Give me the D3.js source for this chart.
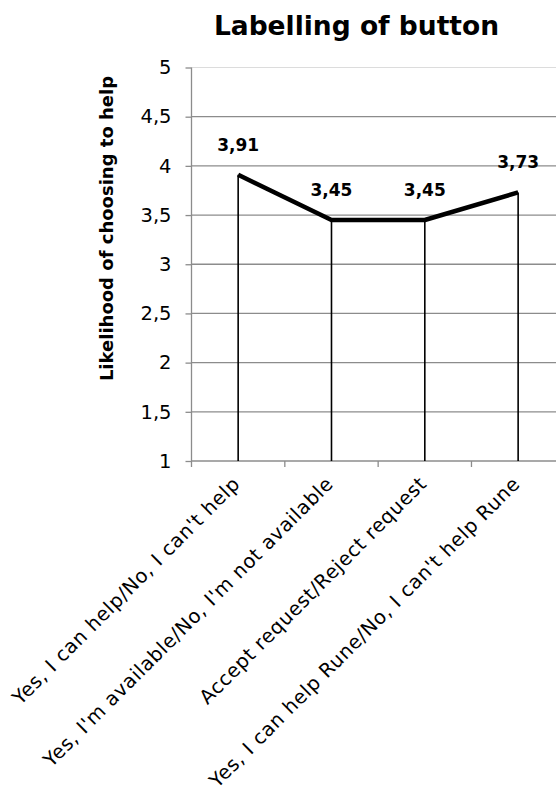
<!DOCTYPE html>
<html>
<head>
<meta charset="utf-8">
<script src="https://cdn.jsdelivr.net/npm/d3@7"></script>
<style>
  html, body { margin: 0; padding: 0; background: #fff; }
  svg { display: block; }
  text { font-family: "DejaVu Sans", sans-serif; fill: #000; }
</style>
</head>
<body>
<svg id="chart" width="556" height="794"></svg>
<script>
// Button label variants and the mean likelihood of choosing to help
const categories = [
  "Yes, I can help/No, I can't help",
  "Yes, I'm available/No, I'm not available",
  "Accept request/Reject request",
  "Yes, I can help Rune/No, I can't help Rune"
];
const values = [3.91, 3.45, 3.45, 3.73];
const yTicks = [1, 1.5, 2, 2.5, 3, 3.5, 4, 4.5, 5];
const titleText = "Labelling of button";
const yTitleText = "Likelihood of choosing to help";

const svg = d3.select("#chart");
const W = 556, H = 794;
const plot = { left: 191.5, right: 564.8, top: 67.5, bottom: 461 };

const comma = d3.formatLocale({ decimal: ",", thousands: ".", grouping: [3], currency: ["", ""] });
const fmtTick = comma.format("~g");
const fmtVal = comma.format(".2f");

const x = d3.scaleBand().domain(categories).range([plot.left, plot.right]).padding(0);
const cx = d => x(d) + x.bandwidth() / 2;
const y = d3.scaleLinear().domain([1, 5]).range([plot.bottom, plot.top]);

// plot area top border
svg.append("line")
  .attr("x1", plot.left).attr("x2", W)
  .attr("y1", y(5)).attr("y2", y(5))
  .attr("stroke", "#dcdcdc").attr("stroke-width", 1.2);

// horizontal gridlines
svg.append("g").selectAll("line")
  .data(yTicks.filter(t => t > 1 && t < 5))
  .join("line")
  .attr("x1", plot.left).attr("x2", W)
  .attr("y1", d => y(d)).attr("y2", d => y(d))
  .attr("stroke", "#8c8c8c").attr("stroke-width", 1.3);

// y axis
const yAxis = svg.append("g")
  .attr("transform", `translate(${plot.left},0)`)
  .call(d3.axisLeft(y).tickValues(yTicks).tickFormat(fmtTick).tickSize(6).tickPadding(14));
yAxis.select(".domain").attr("stroke", "#8c8c8c").attr("stroke-width", 1.3)
  .attr("d", `M0,${y(5)}V${plot.bottom + 6}`);
yAxis.selectAll(".tick line").attr("stroke", "#8c8c8c").attr("stroke-width", 1.3);
yAxis.selectAll(".tick text")
  .style("font-family", "'DejaVu Sans', sans-serif")
  .style("font-size", "19.5px").attr("fill", "#111");

// x axis line with ticks at category boundaries
const xAxisG = svg.append("g");
xAxisG.append("line")
  .attr("x1", plot.left).attr("x2", W)
  .attr("y1", plot.bottom).attr("y2", plot.bottom)
  .attr("stroke", "#8c8c8c").attr("stroke-width", 1.3);
xAxisG.selectAll("line.tk")
  .data(categories.slice(1))
  .join("line").attr("class", "tk")
  .attr("x1", d => x(d)).attr("x2", d => x(d))
  .attr("y1", plot.bottom).attr("y2", plot.bottom + 6)
  .attr("stroke", "#8c8c8c").attr("stroke-width", 1.3);

// rotated category labels
xAxisG.selectAll("text.cat")
  .data(categories)
  .join("text").attr("class", "cat")
  .attr("transform", d => `translate(${cx(d) + 3},${plot.bottom + 24}) rotate(-45)`)
  .attr("text-anchor", "end")
  .style("font-size", "19.5px")
  .style("letter-spacing", "0.6px")
  .text(d => d);

// drop lines from each point to the axis
svg.append("g").selectAll("line")
  .data(categories)
  .join("line")
  .attr("x1", d => cx(d)).attr("x2", d => cx(d))
  .attr("y1", (d, i) => y(values[i])).attr("y2", plot.bottom)
  .attr("stroke", "#000").attr("stroke-width", 1.6);

// series line
const line = d3.line().x(d => cx(d[0])).y(d => y(d[1]));
svg.append("path")
  .datum(categories.map((c, i) => [c, values[i]]))
  .attr("d", line)
  .attr("fill", "none").attr("stroke", "#000")
  .attr("stroke-width", 4.5).attr("stroke-linejoin", "round");

// value labels
svg.append("g").selectAll("text")
  .data(categories)
  .join("text")
  .attr("x", d => cx(d))
  .attr("y", (d, i) => y(values[i]) - 24)
  .attr("text-anchor", "middle")
  .style("font-size", "17px").style("font-weight", "bold")
  .text((d, i) => fmtVal(values[i]));

// chart title
svg.append("text")
  .attr("x", 356.5).attr("y", 35)
  .attr("text-anchor", "middle")
  .style("font-size", "26.5px").style("font-weight", "bold")
  .text(titleText);

// y axis title
svg.append("text")
  .attr("transform", `translate(113,228.5) rotate(-90)`)
  .attr("text-anchor", "middle")
  .style("font-size", "18px").style("font-weight", "bold")
  .text(yTitleText);
</script>
</body>
</html>
